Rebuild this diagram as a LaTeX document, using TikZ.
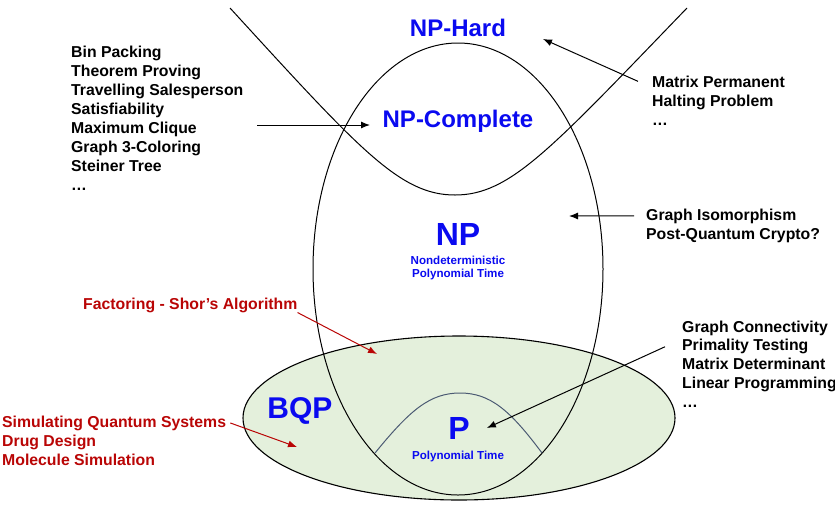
\documentclass[tikz,border=0pt]{standalone}
\usepackage{fontspec}
\setmainfont{Liberation Sans}
\usepackage{tikz}
\usetikzlibrary{arrows.meta}

\definecolor{classblue}{RGB}{10,10,240}
\definecolor{quantred}{RGB}{185,5,5}
\definecolor{bqpgreen}{RGB}{228,240,220}
\definecolor{pline}{RGB}{75,90,115}

\tikzset{
  item/.style={anchor=base west, inner sep=0pt, font=\fontsize{15.8}{19}\selectfont\bfseries},
  qitem/.style={item, text=quantred},
  classname/.style={anchor=base, inner sep=0pt, text=classblue, font=\fontsize{#1}{#1}\selectfont\bfseries},
  subname/.style={anchor=base, inner sep=0pt, text=classblue, font=\fontsize{11.6}{13}\selectfont\bfseries},
  ptr/.style={-{Latex[length=9pt,width=7pt]}, line width=1pt},
}

\begin{document}
\begin{tikzpicture}[x=1pt,y=-1pt]
  \useasboundingbox (0,0) rectangle (835,507);

  % regions
  \fill[bqpgreen] (459,418) ellipse [x radius=216, y radius=82];
  \draw[line width=1pt] (458,269) ellipse [x radius=145, y radius=226];
  \draw[line width=1.1pt] (459,418) ellipse [x radius=216, y radius=82];
  \draw[line width=1pt] (230,8) .. controls (360,150) and (400,195) .. (455,195)
    .. controls (510,195) and (550,150) .. (687,8);
  \draw[pline, line width=1pt] (375,453) .. controls (410,410) and (430,393) .. (460,393)
    .. controls (490,393) and (510,410) .. (542,453);

  % class names
  \node[classname=24] (nphard) at (458,36) {NP-Hard};
  \node[classname=24] (npc) at (458,127) {NP-Complete};
  \node[classname=32] (np) at (458,245) {NP};
  \node[subname] (npsub1) at (458,264) {Nondeterministic};
  \node[subname] (npsub2) at (458,277) {Polynomial Time};
  \node[classname=30] (bqp) at (300,418) {BQP};
  \node[classname=32] (p) at (459,439) {P};
  \node[subname] (psub) at (458,459) {Polynomial Time};

  % problem lists
  \foreach \txt [count=\i from 0] in {Bin Packing, Theorem Proving, Travelling Salesperson,
      Satisfiability, Maximum Clique, Graph 3-Coloring, Steiner Tree, …}
    \node[item] (npcitem\i) at (71,57+19*\i) {\txt};
  \foreach \txt [count=\i from 0] in {Matrix Permanent, Halting Problem, …}
    \node[item] (harditem\i) at (652,87+19*\i) {\txt};
  \foreach \txt [count=\i from 0] in {Graph Isomorphism, Post-Quantum Crypto?}
    \node[item] (npitem\i) at (646,220+19*\i) {\txt};
  \foreach \txt [count=\i from 0] in {Graph Connectivity, Primality Testing,
      Matrix Determinant, Linear Programming, …}
    \node[item] (pitem\i) at (682,332+18.8*\i) {\txt};
  \node[qitem] (shor) at (83,309) {Factoring - Shor’s Algorithm};
  \foreach \txt [count=\i from 0] in {Simulating Quantum Systems, Drug Design, Molecule Simulation}
    \node[qitem] (qitem\i) at (2,427+19*\i) {\txt};

  % arrow ends
  \coordinate (npcfrom) at (257,125);
  \coordinate (npcto) at (370,125);
  \coordinate (hardto) at (543,39);
  \coordinate (npto) at (569,216);
  \coordinate (shorto) at (377,354);
  \coordinate (simto) at (297,447);

  \path[ptr]
  (npcfrom) edge (npcto)
  ([xshift=-14pt]harditem0.west) edge (hardto)
  ([xshift=-12pt]npitem0.west) edge (npto)
  ([xshift=-17pt]pitem1.west) edge ([xshift=17pt]p.east)
  ;
  \path[ptr, quantred]
  (shor.south east) edge (shorto)
  ([xshift=4pt]qitem0.east) edge (simto)
  ;
\end{tikzpicture}
\end{document}
